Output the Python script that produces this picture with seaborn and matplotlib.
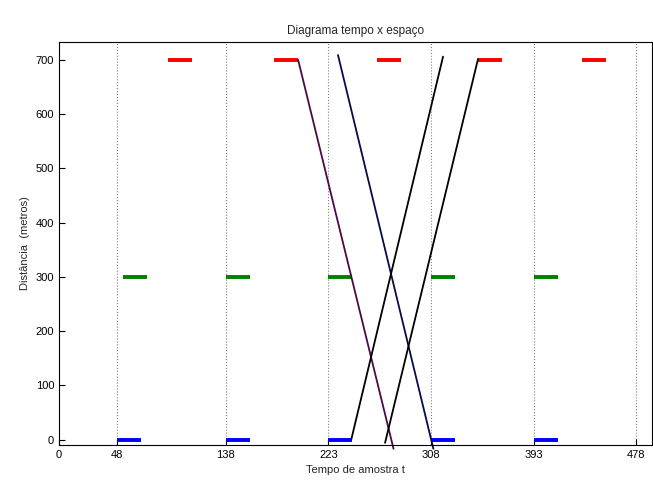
import numpy as np
import pandas as pd
import seaborn as sns
import matplotlib.pyplot as plt

# start of each short segment (length 20) per level
blue_start = [48, 138, 223, 308, 393]
green_start = [53, 138, 223, 308, 393]
red_start = [90, 178, 263, 347, 433]
seg_len = 20
levels = {'blue': 0, 'green': 300, 'red': 700}

# diagonal trajectories (t0, d0, t1, d1)
traj_purple = ([198, 277], [700, -17])
traj_navy = ([231, 310], [709, -17])
traj_black1 = ([242, 318], [0, 706])
traj_black2 = ([270, 347], [-6, 702])

xticks = [0, 48, 138, 223, 308, 393, 478]
yticks = [0, 100, 200, 300, 400, 500, 600, 700]

sns.set_style('white')
plt.rcParams['font.family'] = ['Liberation Sans', 'DejaVu Sans']
plt.rcParams['font.size'] = 8

fig = plt.figure(figsize=(6.53, 4.8), dpi=100)
ax = fig.add_axes([0.0904, 0.073, 0.908, 0.8395])

rows = []
for name, starts in [('blue', blue_start), ('green', green_start), ('red', red_start)]:
    for i, s in enumerate(starts):
        rows.append({'seg': f'{name}{i}', 'cor': name, 't': s, 'd': levels[name]})
        rows.append({'seg': f'{name}{i}', 'cor': name, 't': s + seg_len, 'd': levels[name]})
segs = pd.DataFrame(rows)

pal = {'blue': '#0000ff', 'green': '#008000', 'red': '#ff0000'}
sns.lineplot(data=segs, x='t', y='d', hue='cor', units='seg', estimator=None,
             palette=pal, linewidth=2.8, legend=False, ax=ax, sort=False,
             solid_capstyle='butt')

for (tt, dd), c in [(traj_purple, '#4a0a4a'), (traj_navy, '#0a0a4a'),
                    (traj_black1, 'black'), (traj_black2, 'black')]:
    sns.lineplot(x=tt, y=dd, color=c, linewidth=1.3, ax=ax, sort=False)
for line in ax.lines[-4:]:
    line.set_clip_on(False)

ax.set_xlim(0, 491)
ax.set_ylim(-10, 733)
ax.set_xticks(xticks)
ax.set_yticks(yticks)
ax.xaxis.grid(True, linestyle=':', color='#808080', linewidth=0.8)
ax.yaxis.grid(False)
ax.set_axisbelow(True)
ax.tick_params(direction='in', length=4, width=0.8, colors='black', labelsize=8,
               top=False, right=False, left=True, bottom=True)
for sp in ax.spines.values():
    sp.set_color('black')
    sp.set_linewidth(0.8)

ax.set_title('Diagrama tempo x espaço', fontsize=8.5)
ax.set_xlabel('Tempo de amostra t', fontsize=8)
ax.set_ylabel('Distância  (metros)', fontsize=8)

fig.savefig('out.png', dpi=100)
